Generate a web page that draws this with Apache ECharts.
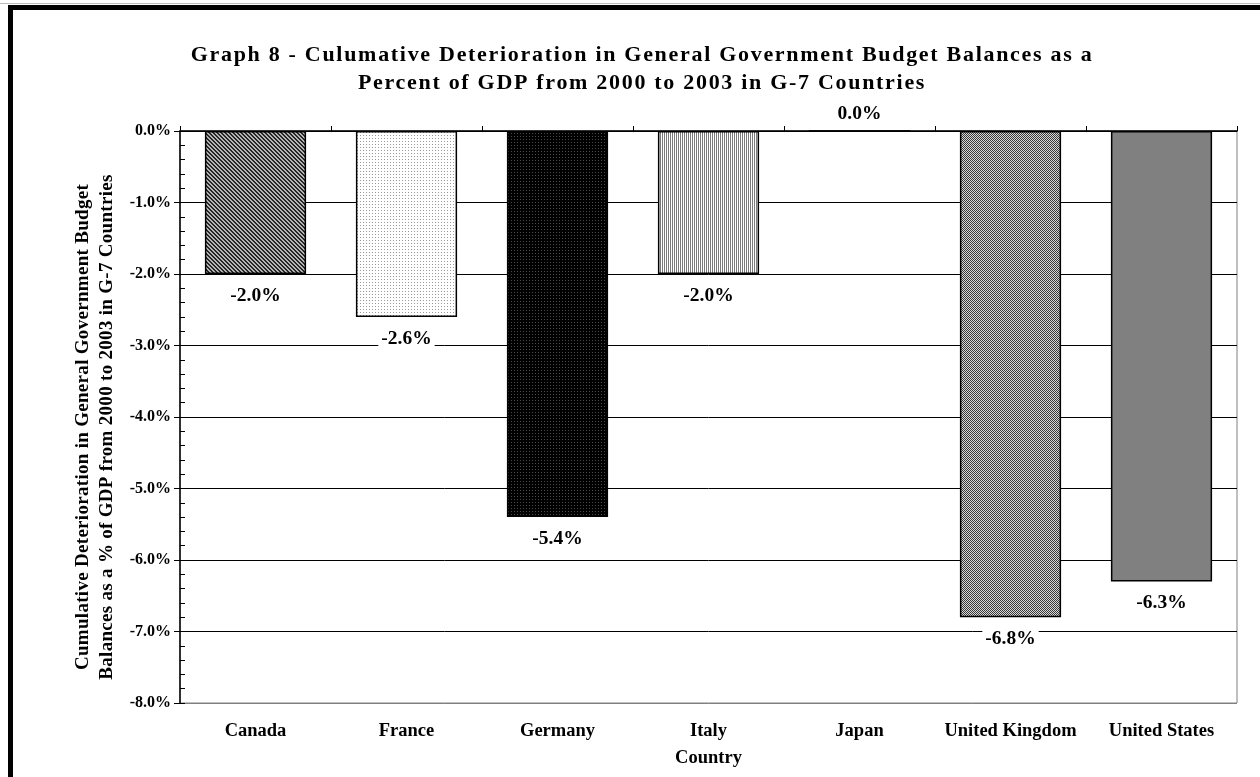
<!DOCTYPE html>
<html>
<head>
<meta charset="utf-8">
<script src="https://cdn.jsdelivr.net/npm/echarts@6/dist/echarts.min.js"></script>
<style>
html,body{margin:0;padding:0;background:#fff;}
#chart{width:1260px;height:777px;}
</style>
</head>
<body>
<div id="chart"></div>
<script>
// ---- data ----
const categories = ['Canada', 'France', 'Germany', 'Italy', 'Japan', 'United Kingdom', 'United States'];
const values = [-2.0, -2.6, -5.4, -2.0, 0.0, -6.8, -6.3];
const yTicks = [0, -1, -2, -3, -4, -5, -6, -7, -8];
const titleLines = ['Graph 8 - Culumative Deterioration in General Government Budget Balances as a',
                    'Percent of GDP from 2000 to 2003 in G-7 Countries'];
const yNameLines = ['Cumulative Deterioration in General Government Budget',
                    'Balances as a % of GDP from 2000 to 2003 in G-7 Countries'];
const xName = 'Country';

// ---- letter spacing for the wide (stretched) texts of the original ----
(function () {
  const proto = CanvasRenderingContext2D.prototype;
  const orig = proto.fillText;
  proto.fillText = function (t, x, y, m) {
    const f = this.font || '';
    let ls = '0px';
    if (f.indexOf('22px') >= 0) ls = '1.7px';
    else if (f.indexOf('19px') >= 0) ls = '0.3px';
    if ('letterSpacing' in this) this.letterSpacing = ls;
    return m === undefined ? orig.call(this, t, x, y) : orig.call(this, t, x, y, m);
  };
})();

// ---- fill patterns ----
function pat(w, h, bg, fg, pixels) {
  const c = document.createElement('canvas');
  c.width = w; c.height = h;
  const ctx = c.getContext('2d');
  ctx.fillStyle = bg; ctx.fillRect(0, 0, w, h);
  ctx.fillStyle = fg;
  pixels.forEach(p => ctx.fillRect(p[0], p[1], 1, 1));
  return { image: c, repeat: 'repeat' };
}
const fills = [
  pat(4, 4, '#b4b4b4', '#262626', [[0,0],[1,0],[1,1],[2,1],[2,2],[3,2],[3,3],[0,3]]), // Canada diagonal weave
  pat(3, 3, '#ffffff', '#9a9a9a', [[0,0]]),                                           // France dots
  pat(3, 3, '#000000', '#4a4a4a', [[1,1]]),                                           // Germany
  pat(2, 1, '#ffffff', '#7a7a7a', [[0,0]]),                                           // Italy vertical
  '#ffffff',                                                                          // Japan
  pat(2, 2, '#d8d8d8', '#383838', [[0,0],[1,1]]),                                     // UK checker
  '#808080'                                                                           // US solid
];

const FONT = '"Liberation Serif", "Times New Roman", serif';

const barData = values.map((v, i) => {
  const d = { value: v, itemStyle: { color: fills[i] } };
  if (v >= 0) d.label = { position: 'top', distance: 6 };
  return d;
});

const chart = echarts.init(document.getElementById('chart'), null, { renderer: 'canvas' });
chart.setOption({
  animation: false,
  backgroundColor: '#ffffff',
  title: {
    text: titleLines.join('\n'),
    left: 637, top: 36, textAlign: 'center',
    textStyle: { fontFamily: FONT, fontWeight: 'bold', fontSize: 22, lineHeight: 28, color: '#000' }
  },
  graphic: [
    { type: 'rect', shape: { x: 0, y: 3, width: 1260, height: 1 }, style: { fill: '#bbbbbb' } },
    { type: 'rect', shape: { x: 8, y: 5, width: 1252, height: 5 }, style: { fill: '#000' } },
    { type: 'rect', shape: { x: 8, y: 5, width: 5, height: 772 }, style: { fill: '#000' } }
  ],
  grid: {
    left: 180, top: 131, right: 23, bottom: 74,
    show: true, borderColor: '#808080', borderWidth: 1, backgroundColor: 'transparent'
  },
  xAxis: [
    {
      type: 'category', data: categories, position: 'bottom',
      axisLine: { show: false }, axisTick: { show: false },
      axisLabel: { margin: 19, fontFamily: FONT, fontWeight: 'bold', fontSize: 18.5, color: '#000', interval: 0 },
      name: xName, nameLocation: 'middle', nameGap: 46,
      nameTextStyle: { fontFamily: FONT, fontWeight: 'bold', fontSize: 18.5, color: '#000' }
    },
    {
      type: 'category', data: categories, position: 'top',
      axisLine: { show: true, onZero: false, lineStyle: { color: '#000', width: 1.5 } },
      axisTick: { show: true, inside: false, length: 5, lineStyle: { color: '#000' } },
      axisLabel: { show: false }
    }
  ],
  yAxis: [
    {
      type: 'value', min: -8, max: 0, interval: 1,
      axisLine: { show: true, onZero: false, lineStyle: { color: '#000', width: 1.5 } },
      axisTick: { show: true, inside: false, length: 6, lineStyle: { color: '#000' } },
      axisLabel: {
        margin: 9, fontFamily: FONT, fontWeight: 'bold', fontSize: 16, color: '#000',
        formatter: v => (yTicks.indexOf(v) >= 0 ? v.toFixed(1) + '%' : '')
      },
      splitLine: { show: true, lineStyle: { color: ['#808080', '#000', '#000', '#000', '#000', '#000', '#000', '#000', '#000'], width: 1 } },
      name: yNameLines.join('\n'), nameLocation: 'middle', nameGap: 60, nameRotate: 90,
      nameTextStyle: { fontFamily: FONT, fontWeight: 'bold', fontSize: 19, lineHeight: 24, color: '#000', padding: [0, 20, 0, 0] }
    },
    {
      type: 'value', min: -8, max: 0, interval: 0.2, position: 'left',
      axisLine: { show: false },
      axisTick: { show: true, inside: true, length: 5, lineStyle: { color: '#000' } },
      axisLabel: { show: false }, splitLine: { show: false }
    }
  ],
  series: [{
    type: 'bar', xAxisIndex: 0, yAxisIndex: 0,
    data: barData,
    barCategoryGap: '33%',
    itemStyle: { borderColor: '#000', borderWidth: 1.5 },
    label: {
      show: true, position: 'bottom', distance: 12,
      fontFamily: FONT, fontWeight: 'bold', fontSize: 19.5, color: '#000',
      backgroundColor: '#fff', padding: [0, 3],
      formatter: p => p.value.toFixed(1) + '%'
    }
  }]
});
</script>
</body>
</html>
